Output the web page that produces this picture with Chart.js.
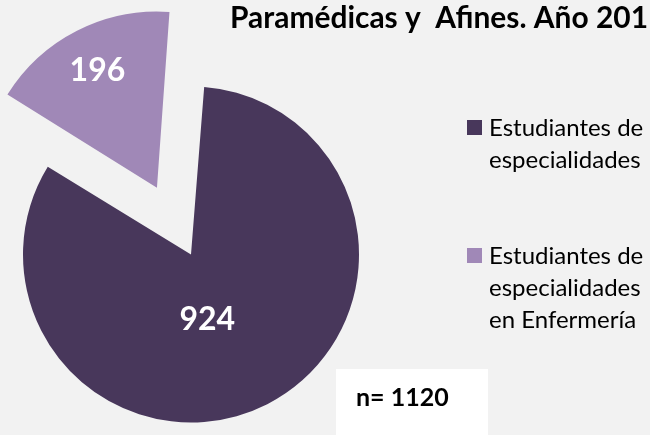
<!DOCTYPE html>
<html>
<head>
<meta charset="utf-8">
<script src="https://cdn.jsdelivr.net/npm/chart.js@4"></script>
<style>
  html, body { margin: 0; padding: 0; background: #f2f2f2; }
  canvas { display: block; }
</style>
</head>
<body>
<canvas id="myChart" width="650" height="435"></canvas>
<script>
// data
const labels = [
  ["Estudiantes de", "especialidades"],
  ["Estudiantes de", "especialidades", "en Enfermería"]
];
const values = [924, 196];
const colors = ["#48375b", "#a088b7"];
const titleText = "Paramédicas y  Afines. Año 201";

// draws title, legend, the n box and the slice values
const decor = {
  id: "decor",
  beforeDraw(chart) {
    const ctx = chart.ctx;
    ctx.save();
    ctx.fillStyle = "#f2f2f2";
    ctx.fillRect(0, 0, chart.width, chart.height);
    ctx.restore();
  },
  afterDatasetsDraw(chart) {
    const ctx = chart.ctx;
    const meta = chart.getDatasetMeta(0);
    ctx.save();
    ctx.fillStyle = "#ffffff";
    ctx.font = "bold 32px Lato";
    ctx.textAlign = "center";
    ctx.textBaseline = "middle";
    const frac = [0.4, 0.78];
    const nudge = [13, 0];
    meta.data.forEach((arc, i) => {
      const p = arc.getProps(["x", "y", "startAngle", "endAngle", "outerRadius"], true);
      const mid = (p.startAngle + p.endAngle) / 2;
      // exploded slice is moved by offset/4 in Chart.js
      const shift = (arc.options.offset || 0) / 4;
      const a = mid + nudge[i] * Math.PI / 180;
      const r = p.outerRadius * frac[i];
      const cx = p.x + Math.cos(mid) * shift;
      const cy = p.y + Math.sin(mid) * shift;
      ctx.fillText(String(values[i]), cx + Math.cos(a) * r, cy + Math.sin(a) * r);
    });

    // title (only its last line shows)
    ctx.fillStyle = "#000000";
    ctx.textAlign = "left";
    ctx.textBaseline = "alphabetic";
    ctx.font = "bold 30px Lato";
    ctx.fillText(titleText, 230, 28, 418);

    // legend
    ctx.font = "24px Lato";
    const tops = [120, 248];
    labels.forEach((lines, i) => {
      ctx.fillStyle = colors[i];
      ctx.fillRect(467, tops[i], 15, 15);
      ctx.fillStyle = "#000000";
      lines.forEach((ln, j) => {
        ctx.fillText(ln, 489, tops[i] + 16 + j * 32);
      });
    });

    // n box
    const total = values.reduce((a, b) => a + b, 0);
    ctx.fillStyle = "#ffffff";
    ctx.fillRect(336, 369, 152, 70);
    ctx.fillStyle = "#000000";
    ctx.font = "bold 25px Lato";
    ctx.fillText("n= " + total, 356, 406);
    ctx.restore();
  }
};

new Chart(document.getElementById("myChart"), {
  type: "pie",
  data: {
    labels: labels,
    datasets: [{
      data: values,
      backgroundColor: colors,
      borderWidth: 0,
      offset: [0, 300],
      clip: false
    }]
  },
  options: {
    responsive: false,
    animation: false,
    rotation: 4.5,
    radius: 168,
    layout: { padding: { left: 0, right: 268, top: 74, bottom: 0 } },
    plugins: {
      legend: { display: false },
      tooltip: { enabled: false },
      title: { display: false }
    }
  },
  plugins: [decor]
});
</script>
</body>
</html>
